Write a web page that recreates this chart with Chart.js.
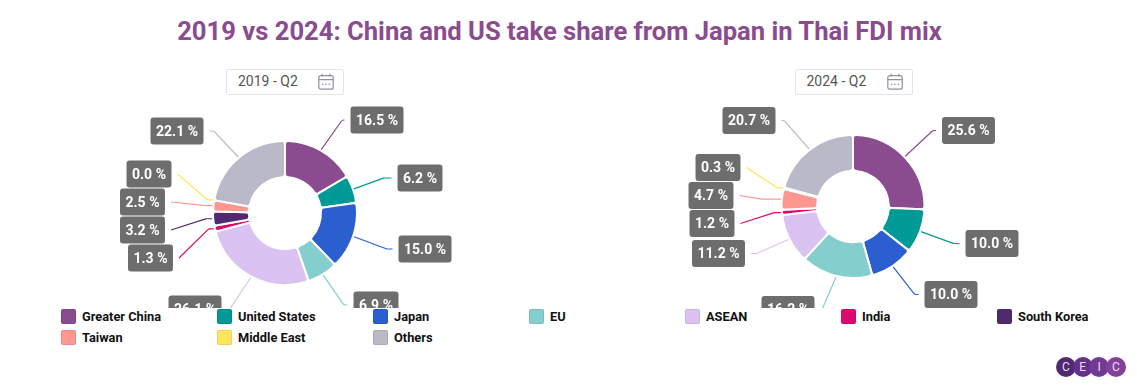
<!DOCTYPE html>
<html>
<head>
<meta charset="utf-8">
<script src="https://cdn.jsdelivr.net/npm/chart.js@4"></script>
<style>
  html, body { margin: 0; background: #fff; width: 1137px; height: 389px; overflow: hidden; font-family: Roboto, sans-serif; }
  #title { position: absolute; left: 0; top: 13px; width: 1119px; text-align: center; font-size: 25.6px; font-weight: 700; line-height: 36px; color: #8a4b8f; white-space: nowrap; }
  canvas { position: absolute; top: 0; }
  .picker { position: absolute; top: 69px; width: 116px; height: 24px; border: 1px solid #e4e4ea; border-radius: 2px; font-size: 14px; line-height: 23px; color: #555; background: #fff; }
  .picker span { position: absolute; left: 11px; }
  .picker svg { position: absolute; left: 91px; top: 3px; }
  .swatch { position: absolute; width: 13px; height: 13px; border: 1px solid rgba(0,0,0,0.08); border-radius: 2px; }
  .legend-text { position: absolute; font-size: 12.8px; font-weight: 700; line-height: 15px; color: #111; white-space: nowrap; }
  .logo { position: absolute; top: 357px; width: 20px; height: 20px; border-radius: 50%; color: #e9dff0; font-size: 12px; line-height: 20px; text-align: center; }
</style>
</head>
<body>
<div id="title">2019 vs 2024: China and US take share from Japan in Thai FDI mix</div>
<canvas id="chart2019" width="568" height="308" style="left:0"></canvas>
<canvas id="chart2024" width="569" height="308" style="left:568px"></canvas>
<div id="pickers"></div>
<div id="legend"></div>
<div id="logo"></div>

<script>
const categories = ["Greater China", "United States", "Japan", "EU", "ASEAN", "India", "South Korea", "Taiwan", "Middle East", "Others"];
const values2019 = [16.5, 6.2, 15.0, 6.9, 26.1, 1.3, 3.2, 2.5, 0.0, 22.1];
const values2024 = [25.6, 10.0, 10.0, 16.2, 11.2, 1.2, 0, 4.7, 0.3, 20.7];
const colors = ["#8a4b8f", "#009a96", "#2b5fd0", "#84cfcd", "#dac3f3", "#dc0a6e", "#4f2a70", "#ff9690", "#ffe45c", "#b9b9c7"];

// label box centres, relative to the donut centre
const labelOffsets2019 = [[92, -93], [135, -35], [140, 36], [91, 92], [-90, 96], [-134.5, 45], [-142.5, 17], [-142.5, -11], [-136, -39], [-108, -82]];
const labelOffsets2024 = [[115.5, -76], [139, 37], [98, 88], [-65, 103], [-134.5, 47], [-141, 17], null, [-142, -11], [-135, -39], [-104, -86]];
// where the connector bends between label (0) and slice (1)
const crook2019 = [0.1, 0.2, 0.15, 0.15, 0.1, 0.85, 0.85, 0.85, 0.85, 0.15];
const crook2024 = [0.1, 0.15, 0.15, 0.1, 0.15, 0.85, 0, 0.55, 0.85, 0.1];

const legendOrder = ["Greater China", "United States", "Japan", "EU", "ASEAN", "India", "South Korea", "Taiwan", "Middle East", "Others"];

const spiderLabels = {
    id: "spiderLabels",
    afterDraw(chart, args, opts) {
        const ctx = chart.ctx;
        const arcs = chart.getDatasetMeta(0).data;
        const values = chart.data.datasets[0].data;
        ctx.save();
        ctx.font = "700 14px Roboto";
        ctx.textAlign = "center";
        ctx.textBaseline = "middle";
        arcs.forEach((arc, i) => {
            const offset = opts.offsets[i];
            if (!offset) {
                return;
            }
            const text = values[i].toFixed(1) + " %";
            const boxW = ctx.measureText(text).width + 11;
            const boxH = 27;
            const cx = arc.x + offset[0];
            const cy = arc.y + offset[1];
            const mid = (arc.startAngle + arc.endAngle) / 2;
            const sx = arc.x + Math.cos(mid) * (arc.outerRadius + 1);
            const sy = arc.y + Math.sin(mid) * (arc.outerRadius + 1);
            const side = sx >= cx ? 1 : -1;
            const ex = cx + side * (boxW / 2 + 6);
            const f = opts.crook[i];
            const kx = ex + (sx - ex) * f;
            const ky = f < 0.5 ? cy : sy;

            ctx.beginPath();
            ctx.moveTo(ex, cy);
            ctx.arcTo(kx, ky, sx, sy, 3);
            ctx.lineTo(sx, sy);
            ctx.strokeStyle = colors[i];
            ctx.lineWidth = 1.2;
            ctx.stroke();

            ctx.beginPath();
            ctx.roundRect(cx - boxW / 2, cy - boxH / 2, boxW, boxH, 3);
            ctx.fillStyle = "#6d6d6d";
            ctx.fill();
            ctx.fillStyle = "#fff";
            ctx.fillText(text, cx, cy + 1);
        });
        ctx.restore();
    },
};

function makeDonut(id, values, offsets, crook, padding) {
    return new Chart(document.getElementById(id), {
        type: "doughnut",
        data: {
            labels: categories,
            datasets: [{
                data: values,
                backgroundColor: colors,
                borderColor: "#fff",
                borderWidth: 2,
                borderRadius: 3,
            }],
        },
        options: {
            responsive: false,
            animation: false,
            cutout: "50%",
            layout: { padding },
            plugins: {
                legend: { display: false },
                tooltip: { enabled: false },
                spiderLabels: { offsets, crook },
            },
        },
        plugins: [spiderLabels],
    });
}

makeDonut("chart2019", values2019, labelOffsets2019, crook2019, { left: 212, right: 210, top: 140, bottom: 22 });
makeDonut("chart2024", values2024, labelOffsets2024, crook2024, { left: 212, right: 211, top: 134, bottom: 29 });

// date pickers
const calendarIcon = '<svg width="16" height="17" viewBox="0 0 16 17" fill="none" stroke="#8f8fa6" stroke-width="1.2">'
    + '<rect x="0.8" y="2.6" width="14.4" height="13.6" rx="2"/><path d="M0.8 6.6H15.2M4.2 0.8V3.6M11.8 0.8V3.6"/>'
    + '<path d="M4 11.4h1.4M7.3 11.4h1.4M10.6 11.4H12" stroke-width="1.4"/></svg>';
[["2019 - Q2", 226], ["2024 - Q2", 794.5]].forEach(([text, left]) => {
    const el = document.createElement("div");
    el.className = "picker";
    el.style.left = left + "px";
    el.innerHTML = "<span>" + text + "</span>" + calendarIcon;
    document.getElementById("pickers").appendChild(el);
});

// shared legend under both charts
const legendEl = document.getElementById("legend");
legendOrder.forEach((name, i) => {
    const col = i % 7;
    const row = Math.floor(i / 7);
    const swatch = document.createElement("div");
    swatch.className = "swatch";
    swatch.style.left = 61 + col * 156 + "px";
    swatch.style.top = 309 + row * 21 + "px";
    swatch.style.background = colors[categories.indexOf(name)];
    legendEl.appendChild(swatch);
    const label = document.createElement("div");
    label.className = "legend-text";
    label.textContent = name;
    label.style.left = 82 + col * 156 + "px";
    label.style.top = 309 + row * 21 + "px";
    legendEl.appendChild(label);
});

// CEIC logo
const logoColors = ["#4f2a70", "#64328a", "#733a94", "#84409c"];
["C", "E", "I", "C"].forEach((ch, i) => {
    const el = document.createElement("div");
    el.className = "logo";
    el.textContent = ch;
    el.style.left = 1056 + i * 16.6 + "px";
    el.style.background = logoColors[i];
    document.getElementById("logo").appendChild(el);
});
</script>
</body>
</html>
